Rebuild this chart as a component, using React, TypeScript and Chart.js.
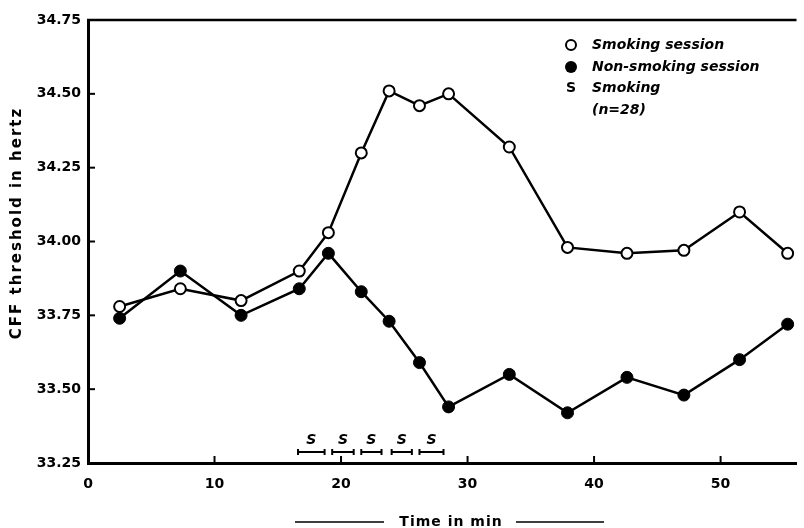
import React, { useEffect, useRef } from "react";
import { Chart, registerables } from "chart.js";

Chart.register(...registerables);

// ---- data ----
const times = [2.5, 7.3, 12.1, 16.7, 19.0, 21.6, 23.8, 26.2, 28.5, 33.3, 37.9, 42.6, 47.1, 51.5, 55.3];
const smokingSession = [33.78, 33.84, 33.8, 33.9, 34.03, 34.3, 34.51, 34.46, 34.5, 34.32, 33.98, 33.96, 33.97, 34.1, 33.96];
const nonSmokingSession = [33.74, 33.9, 33.75, 33.84, 33.96, 33.83, 33.73, 33.59, 33.44, 33.55, 33.42, 33.54, 33.48, 33.6, 33.72];
const smokingStart = [16.6, 19.3, 21.6, 24.0, 26.2];
const smokingEnd = [18.7, 21.0, 23.2, 25.6, 28.1];
const xTickLabels = [0, 10, 20, 30, 40, 50];
const yMin = 33.25;
const yMax = 34.75;
const yStep = 0.25;
const xMax = 56.0;
const legendLabels = ["Smoking session", "Non-smoking session", "Smoking", "(n=28)"];
const xTitle = "Time in min";
const yTitle = "CFF threshold in hertz";

const FONT = "'DejaVu Sans', sans-serif";

const decorPlugin = {
  id: "decor",
  afterDraw(chart: any) {
    const { ctx, chartArea, scales } = chart;
    const xs = scales.x;
    const ys = scales.y;
    ctx.save();
    ctx.strokeStyle = "#000";
    ctx.fillStyle = "#000";
    ctx.lineCap = "butt";

    // top frame line
    ctx.lineWidth = 2.5;
    ctx.beginPath();
    ctx.moveTo(chartArea.left - 1, chartArea.top);
    ctx.lineTo(chartArea.right, chartArea.top);
    ctx.stroke();

    // inward tick marks
    ctx.lineWidth = 2;
    ys.ticks.forEach((t: any) => {
      if (t.value > yMin + 1e-6 && t.value < yMax - 1e-6) {
        const py = ys.getPixelForValue(t.value);
        ctx.beginPath();
        ctx.moveTo(chartArea.left, py);
        ctx.lineTo(chartArea.left + 7, py);
        ctx.stroke();
      }
    });
    xs.ticks.forEach((t: any) => {
      if (t.value > 0 && xTickLabels.includes(t.value)) {
        const px = xs.getPixelForValue(t.value);
        ctx.beginPath();
        ctx.moveTo(px, chartArea.bottom);
        ctx.lineTo(px, chartArea.bottom - 7);
        ctx.stroke();
      }
    });

    // smoking bars with S
    const barY = chartArea.bottom - 11;
    ctx.lineWidth = 2;
    ctx.font = `italic bold 14px ${FONT}`;
    ctx.textAlign = "center";
    ctx.textBaseline = "middle";
    smokingStart.forEach((s, i) => {
      const x1 = xs.getPixelForValue(s);
      const x2 = xs.getPixelForValue(smokingEnd[i]);
      ctx.beginPath();
      ctx.moveTo(x1, barY);
      ctx.lineTo(x2, barY);
      ctx.moveTo(x1, barY - 3);
      ctx.lineTo(x1, barY + 3);
      ctx.moveTo(x2, barY - 3);
      ctx.lineTo(x2, barY + 3);
      ctx.stroke();
      ctx.fillText("S", (x1 + x2) / 2, barY - 12);
    });

    // legend
    const mx = 571;
    const tx = 592;
    const rows = [45, 67, 88, 110];
    ctx.lineWidth = 2;
    ctx.beginPath();
    ctx.arc(mx, rows[0], 5, 0, Math.PI * 2);
    ctx.fillStyle = "#fff";
    ctx.fill();
    ctx.stroke();
    ctx.fillStyle = "#000";
    ctx.beginPath();
    ctx.arc(mx, rows[1], 6, 0, Math.PI * 2);
    ctx.fill();
    ctx.font = `bold 14px ${FONT}`;
    ctx.textAlign = "center";
    ctx.fillText("S", mx, rows[2]);
    ctx.font = `italic bold 14px ${FONT}`;
    ctx.textAlign = "left";
    legendLabels.forEach((l, i) => ctx.fillText(l, tx, rows[i]));

    // x title with lines
    ctx.font = `bold 14px ${FONT}`;
    (ctx as any).letterSpacing = "1px";
    ctx.textAlign = "left";
    const w = ctx.measureText(xTitle).width;
    const cx = 451;
    const ty = 522;
    ctx.fillText(xTitle, cx - w / 2, ty);
    ctx.lineWidth = 1.5;
    ctx.beginPath();
    ctx.moveTo(295, ty);
    ctx.lineTo(384, ty);
    ctx.moveTo(516, ty);
    ctx.lineTo(604, ty);
    ctx.stroke();

    // y title
    ctx.save();
    ctx.translate(17, 223);
    ctx.rotate(-Math.PI / 2);
    ctx.font = `bold 15px ${FONT}`;
    (ctx as any).letterSpacing = "2px";
    const wy = ctx.measureText(yTitle).width;
    ctx.fillText(yTitle, -wy / 2, 0);
    ctx.restore();

    ctx.restore();
  },
};

export default function App() {
  const ref = useRef<HTMLCanvasElement | null>(null);
  useEffect(() => {
    if (!ref.current) return;
    const chart = new Chart(ref.current, {
      type: "line",
      data: {
        datasets: [
          {
            label: legendLabels[1],
            data: times.map((t, i) => ({ x: t, y: nonSmokingSession[i] })),
            borderColor: "#000",
            borderWidth: 2.5,
            pointRadius: 6,
            pointBackgroundColor: "#000",
            pointBorderColor: "#000",
            pointBorderWidth: 1,
            tension: 0,
          },
          {
            label: legendLabels[0],
            data: times.map((t, i) => ({ x: t, y: smokingSession[i] })),
            borderColor: "#000",
            borderWidth: 2.5,
            pointRadius: 5.5,
            pointBackgroundColor: "#fff",
            pointBorderColor: "#000",
            pointBorderWidth: 2,
            tension: 0,
          },
        ],
      },
      options: {
        responsive: false,
        animation: false,
        layout: { padding: { top: 20, right: 0, left: 0, bottom: 0 } },
        plugins: { legend: { display: false }, tooltip: { enabled: false }, title: { display: false } },
        scales: {
          x: {
            type: "linear",
            min: 0,
            max: xMax,
            afterFit: (s: any) => {
              s.height = 65;
            },
            grid: { display: false, drawTicks: false },
            border: { display: true, color: "#000", width: 3 },
            ticks: {
              stepSize: 10,
              includeBounds: false,
              padding: 13,
              color: "#000",
              font: { family: FONT, size: 14, weight: "bold" },
              callback: (v: any) => (xTickLabels.includes(v) ? String(v) : ""),
              maxRotation: 0,
            },
          },
          y: {
            min: yMin,
            max: yMax,
            afterFit: (s: any) => {
              s.width = 88;
            },
            grid: { display: false, drawTicks: false },
            border: { display: true, color: "#000", width: 3 },
            ticks: {
              stepSize: yStep,
              padding: 7,
              color: "#000",
              font: { family: FONT, size: 14, weight: "bold" },
              callback: (v: any) => Number(v).toFixed(2),
            },
          },
        },
      },
      plugins: [decorPlugin],
    });
    return () => chart.destroy();
  }, []);
  return (
    <div style={{ position: "absolute", left: 0, top: 0, width: 804, height: 528, background: "#fff" }}>
      <canvas ref={ref} width={804} height={528} style={{ display: "block" }} />
    </div>
  );
}
